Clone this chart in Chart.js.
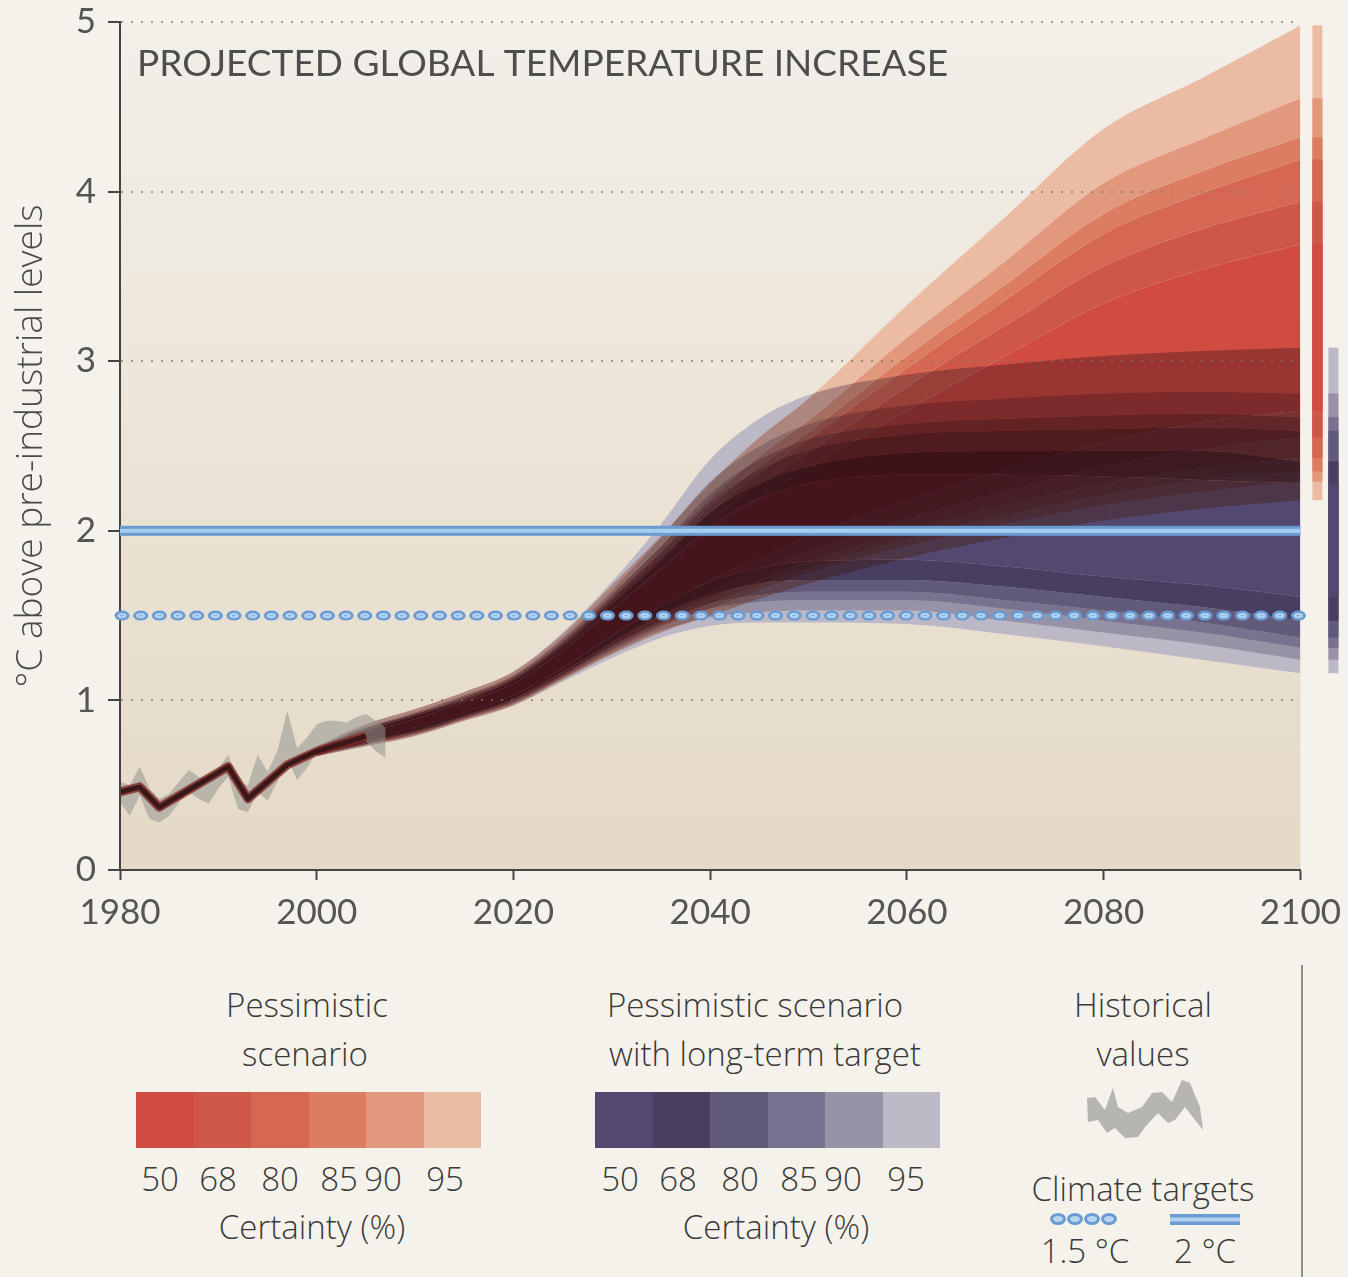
<!DOCTYPE html>
<html>
<head>
<meta charset="utf-8">
<script src="https://cdn.jsdelivr.net/npm/chart.js@4.4.0/dist/chart.umd.min.js"></script>
<style>
  body { margin: 0; background: #f5f2ec; width: 1348px; height: 1277px; overflow: hidden; font-family: 'Open Sans', Lato, sans-serif; position: relative; }
  #chart { position: absolute; left: 0; top: 0; }
  .t { position: absolute; transform: translate(-50%, -50%); white-space: nowrap; font-size: 33px; font-weight: 300; color: #3a3a3a; line-height: 1; }
  .bar { position: absolute; height: 56px; display: flex; }
  .bar div { flex: 1; }
  .sep { position: absolute; left: 1301px; top: 965px; width: 2px; height: 312px; background: #8f8f8f; }
</style>
</head>
<body>
<canvas id="chart" width="1348" height="950"></canvas>

<div class="t" style="left:307px;top:1004px">Pessimistic</div>
<div class="t" style="left:305px;top:1053px">scenario</div>
<div class="bar" id="redBar" style="left:136px;top:1092px;width:345px"></div>
<div class="t" style="left:312px;top:1226px">Certainty (%)</div>

<div class="t" style="left:755px;top:1004px">Pessimistic scenario</div>
<div class="t" style="left:765px;top:1053px">with long-term target</div>
<div class="bar" id="blueBar" style="left:595px;top:1092px;width:345px"></div>
<div class="t" style="left:776px;top:1226px">Certainty (%)</div>

<div class="t" style="left:1143px;top:1004px">Historical</div>
<div class="t" style="left:1143px;top:1053px">values</div>
<svg style="position:absolute;left:1083px;top:1078px" width="124" height="64" viewBox="0 0 124 64">
  <polygon fill="#b6b5b0" points="4,20 12,19 22,32 30,10 35,29 45,35 59,29 69,15 79,14 89,24 99,2 107,5 117,29 120,52 112,42 102,29 92,42 85,45 75,35 62,49 55,59 42,60 32,50 24,55 15,42 5,44"/>
</svg>
<div class="t" style="left:1143px;top:1188px">Climate targets</div>
<svg style="position:absolute;left:1048px;top:1210px" width="200" height="18" viewBox="0 0 200 18">
  <g fill="#b9d6f1" stroke="#6a9cd3" stroke-width="3">
    <ellipse cx="10" cy="9" rx="6.5" ry="4.5"/>
    <ellipse cx="27" cy="9" rx="6.5" ry="4.5"/>
    <ellipse cx="44" cy="9" rx="6.5" ry="4.5"/>
    <ellipse cx="61" cy="9" rx="6.5" ry="4.5"/>
  </g>
  <rect x="122" y="4" width="70" height="11" fill="#6a9cd3"/>
  <rect x="122" y="7.5" width="70" height="4" fill="#b2d2f1"/>
</svg>
<div class="t" style="left:1085px;top:1250px">1.5 °C</div>
<div class="t" style="left:1205px;top:1250px">2 °C</div>
<div class="sep"></div>

<script>
// certainty levels and colours (50 -> 95)
const certainty = ['50', '68', '80', '85', '90', '95'];
const redColors = ['#d04b40', '#cf5748', '#d66753', '#dc7d62', '#e2987c', '#ebbba4'];
const blueColors = ['#534970', '#483e61', '#625a7a', '#79728f', '#9892a7', '#bcb8c6'];

// projection years
const years = [2000, 2005, 2010, 2015, 2020, 2025, 2030, 2035, 2040, 2045, 2050, 2060, 2070, 2080, 2090, 2100];

// pessimistic scenario (red)
const redHi95 = [0.73, 0.86, 0.95, 1.05, 1.17, 1.39, 1.68, 1.97, 2.28, 2.55, 2.78, 3.33, 3.85, 4.37, 4.67, 4.98];
const redHi90 = [0.72, 0.84, 0.93, 1.03, 1.15, 1.36, 1.63, 1.91, 2.19, 2.44, 2.65, 3.14, 3.59, 4.05, 4.31, 4.55];
const redHi85 = [0.72, 0.84, 0.92, 1.02, 1.14, 1.34, 1.61, 1.87, 2.14, 2.38, 2.58, 3.03, 3.45, 3.87, 4.12, 4.32];
const redHi80 = [0.72, 0.83, 0.92, 1.01, 1.13, 1.33, 1.59, 1.85, 2.11, 2.34, 2.54, 2.96, 3.36, 3.75, 3.99, 4.19];
const redHi68 = [0.71, 0.82, 0.91, 1.00, 1.12, 1.31, 1.56, 1.81, 2.06, 2.27, 2.46, 2.85, 3.21, 3.56, 3.78, 3.94];
const redHi50 = [0.71, 0.81, 0.89, 0.99, 1.10, 1.29, 1.53, 1.77, 2.00, 2.19, 2.37, 2.71, 3.03, 3.34, 3.54, 3.69];
const redLo50 = [0.69, 0.76, 0.83, 0.92, 1.03, 1.19, 1.38, 1.55, 1.71, 1.84, 1.97, 2.18, 2.36, 2.52, 2.64, 2.71];
const redLo68 = [0.68, 0.75, 0.82, 0.91, 1.01, 1.17, 1.35, 1.51, 1.64, 1.77, 1.88, 2.07, 2.23, 2.38, 2.48, 2.55];
const redLo80 = [0.68, 0.75, 0.81, 0.90, 1.00, 1.15, 1.32, 1.47, 1.60, 1.71, 1.82, 2.00, 2.15, 2.28, 2.37, 2.43];
const redLo85 = [0.68, 0.74, 0.80, 0.89, 0.99, 1.14, 1.31, 1.45, 1.57, 1.68, 1.78, 1.95, 2.09, 2.21, 2.30, 2.35];
const redLo90 = [0.67, 0.74, 0.80, 0.89, 0.98, 1.13, 1.29, 1.43, 1.54, 1.65, 1.75, 1.91, 2.04, 2.15, 2.23, 2.29];
const redLo95 = [0.67, 0.73, 0.79, 0.88, 0.97, 1.12, 1.27, 1.40, 1.50, 1.60, 1.69, 1.84, 1.96, 2.06, 2.13, 2.18];

// pessimistic scenario with long-term target (blue)
const blueHi95 = [0.73, 0.86, 0.95, 1.05, 1.17, 1.40, 1.70, 2.04, 2.42, 2.66, 2.80, 2.92, 2.98, 3.03, 3.06, 3.08];
const blueHi90 = [0.72, 0.84, 0.93, 1.03, 1.15, 1.37, 1.65, 1.96, 2.29, 2.50, 2.63, 2.74, 2.78, 2.81, 2.82, 2.81];
const blueHi85 = [0.72, 0.84, 0.92, 1.02, 1.14, 1.35, 1.62, 1.91, 2.22, 2.42, 2.54, 2.63, 2.66, 2.68, 2.69, 2.67];
const blueHi80 = [0.72, 0.83, 0.92, 1.01, 1.13, 1.34, 1.60, 1.88, 2.17, 2.36, 2.48, 2.57, 2.59, 2.60, 2.61, 2.59];
const blueHi68 = [0.71, 0.82, 0.91, 1.00, 1.12, 1.32, 1.57, 1.83, 2.11, 2.28, 2.38, 2.46, 2.47, 2.47, 2.47, 2.41];
const blueHi50 = [0.71, 0.81, 0.89, 0.99, 1.10, 1.30, 1.54, 1.78, 2.03, 2.19, 2.28, 2.33, 2.33, 2.32, 2.30, 2.28];
const blueLo50 = [0.69, 0.77, 0.84, 0.93, 1.03, 1.19, 1.38, 1.56, 1.70, 1.78, 1.82, 1.83, 1.79, 1.73, 1.68, 1.61];
const blueLo68 = [0.68, 0.76, 0.82, 0.91, 1.01, 1.17, 1.34, 1.50, 1.62, 1.69, 1.71, 1.71, 1.67, 1.61, 1.55, 1.47];
const blueLo80 = [0.68, 0.75, 0.81, 0.90, 1.00, 1.15, 1.32, 1.46, 1.57, 1.62, 1.64, 1.64, 1.59, 1.53, 1.46, 1.37];
const blueLo85 = [0.68, 0.74, 0.81, 0.90, 0.99, 1.14, 1.30, 1.44, 1.54, 1.58, 1.59, 1.59, 1.54, 1.47, 1.40, 1.31];
const blueLo90 = [0.67, 0.74, 0.80, 0.89, 0.98, 1.13, 1.28, 1.41, 1.49, 1.52, 1.53, 1.53, 1.47, 1.40, 1.33, 1.24];
const blueLo95 = [0.67, 0.73, 0.79, 0.88, 0.97, 1.11, 1.25, 1.37, 1.44, 1.46, 1.46, 1.45, 1.39, 1.32, 1.24, 1.16];

// historical observations (grey band)
const histYears = [1980, 1981, 1982, 1983, 1984, 1985, 1986, 1987, 1988, 1989, 1990, 1991, 1992, 1993, 1994, 1995, 1996, 1997, 1998, 1999, 2000, 2001, 2002, 2003, 2004, 2005, 2006, 2007];
const histHi = [0.52, 0.50, 0.61, 0.48, 0.42, 0.45, 0.52, 0.59, 0.55, 0.52, 0.60, 0.68, 0.52, 0.50, 0.68, 0.58, 0.70, 0.94, 0.72, 0.78, 0.86, 0.88, 0.88, 0.87, 0.90, 0.92, 0.88, 0.84];
const histLo = [0.40, 0.32, 0.44, 0.30, 0.28, 0.32, 0.40, 0.46, 0.42, 0.39, 0.48, 0.55, 0.36, 0.34, 0.46, 0.41, 0.52, 0.66, 0.53, 0.60, 0.70, 0.74, 0.76, 0.76, 0.78, 0.76, 0.70, 0.66];

// modelled past
const modelYears = [1980, 1982, 1984, 1991, 1993, 1997, 2000, 2005];
const modelTemp = [0.46, 0.49, 0.37, 0.61, 0.42, 0.62, 0.70, 0.79];

// climate targets
const target15 = 1.5;
const target2 = 2;

const xTicks = [1980, 2000, 2020, 2040, 2060, 2080, 2100];

function pts(xs, arr) {
    return xs.map((x, i) => ({ x: x, y: arr[i] }));
}

function fan(his, los, colors, order) {
    const bounds = his.concat(los);
    const fills = [colors[5], colors[4], colors[3], colors[2], colors[1], colors[0], colors[1], colors[2], colors[3], colors[4], colors[5]];
    return bounds.map((arr, i) => ({
        data: pts(years, arr),
        order: order,
        borderWidth: 0,
        pointRadius: 0,
        cubicInterpolationMode: 'monotone',
        fill: i < 11 ? '+1' : false,
        backgroundColor: i < 11 ? fills[i] : 'transparent'
    }));
}

const redHis = [redHi95, redHi90, redHi85, redHi80, redHi68, redHi50];
const redLos = [redLo50, redLo68, redLo80, redLo85, redLo90, redLo95];
const blueHis = [blueHi95, blueHi90, blueHi85, blueHi80, blueHi68, blueHi50];
const blueLos = [blueLo50, blueLo68, blueLo80, blueLo85, blueLo90, blueLo95];

function makeDatasets() {
    return []
        .concat(fan(redHis, redLos, redColors, 4))      // 0..11
        .concat(fan(blueHis, blueLos, blueColors, 3))   // 12..23
        .concat([
            { data: pts(histYears, histHi), order: 2, borderWidth: 0, pointRadius: 0, tension: 0, fill: '+1', backgroundColor: 'rgba(150,149,144,0.55)' },
            { data: pts(histYears, histLo), order: 2, borderWidth: 0, pointRadius: 0, tension: 0, fill: false },
            { data: pts(modelYears, modelTemp), order: 1, borderColor: '#3a1719', borderWidth: 5, pointRadius: 0, tension: 0, fill: false, borderJoinStyle: 'round' },
            { data: pts(modelYears, modelTemp), order: 1, borderColor: 'rgba(130,40,34,0.8)', borderWidth: 9, pointRadius: 0, tension: 0, fill: false, borderJoinStyle: 'round' }
        ]);
}

// side bars: 2100 ranges
function sideBar(ctx, y, his, los, colors, x, w) {
    for (let k = 0; k < 6; k++) {
        const top = y.getPixelForValue(his[k][his[k].length - 1]);
        const bot = y.getPixelForValue(los[5 - k][los[5 - k].length - 1]);
        ctx.fillStyle = colors[5 - k];
        ctx.fillRect(x, top, w, bot - top);
    }
}

const decor = {
    id: 'decor',
    beforeDatasetsDraw(chart) {
        chart.ctx.globalCompositeOperation = 'source-over';
    },
    afterDatasetDraw(chart, args) {
        // red fan done -> blend blue fan on top of it; blue done -> normal
        if (args.index === 0) chart.ctx.globalCompositeOperation = 'multiply';
        if (args.index === 12) chart.ctx.globalCompositeOperation = 'source-over';
    },
    afterDatasetsDraw(chart) {
        const ctx = chart.ctx;
        const a = chart.chartArea;
        ctx.save();
        ctx.globalCompositeOperation = 'destination-over';
        const g = ctx.createLinearGradient(0, a.top, 0, a.bottom);
        g.addColorStop(0, '#f2efe9');
        g.addColorStop(0.5, '#ece4d7');
        g.addColorStop(1, '#e4d9c7');
        ctx.fillStyle = g;
        ctx.fillRect(a.left, a.top, a.right - a.left, a.bottom - a.top);
        ctx.restore();
    },
    afterDraw(chart) {
        const ctx = chart.ctx;
        const a = chart.chartArea;
        const y = chart.scales.y;
        ctx.save();

        ctx.font = '37px Lato';
        ctx.fillStyle = '#4d4d4d';
        ctx.textBaseline = 'alphabetic';
        ctx.fillText('PROJECTED GLOBAL TEMPERATURE INCREASE', a.left + 17, a.top + 54);

        sideBar(ctx, y, redHis, redLos, redColors, a.right + 12, 10);
        sideBar(ctx, y, blueHis, blueLos, blueColors, a.right + 28, 10);

        // 2 °C double line
        const y2 = y.getPixelForValue(target2);
        ctx.fillStyle = '#6a9cd3';
        ctx.fillRect(a.left, y2 - 5, a.right - a.left, 10);
        ctx.fillStyle = '#aacdef';
        ctx.fillRect(a.left, y2 - 2, a.right - a.left, 4);

        // 1.5 °C dotted line
        const y15 = y.getPixelForValue(target15);
        const n = Math.round((a.right - a.left - 4) / 18.6);
        const step = (a.right - a.left - 4) / n;
        for (let i = 0; i <= n; i++) {
            const cx = a.left + 2 + i * step;
            ctx.fillStyle = '#6a9cd3';
            ctx.beginPath();
            ctx.ellipse(cx, y15, 7.5, 5, 0, 0, Math.PI * 2);
            ctx.fill();
            ctx.fillStyle = '#b9d6f1';
            ctx.beginPath();
            ctx.ellipse(cx, y15, 4.5, 2.6, 0, 0, Math.PI * 2);
            ctx.fill();
            ctx.fillStyle = '#86b2df';
            ctx.fillRect(cx - 2, y15 - 0.7, 4, 1.4);
        }
        ctx.restore();
    }
};

function makeConfig() {
    return {
        type: 'line',
        data: { datasets: makeDatasets() },
        plugins: [decor],
        options: {
            responsive: false,
            animation: false,
            events: [],
            layout: { padding: { top: 22, right: 48, left: 0, bottom: 0 } },
            plugins: { legend: { display: false }, tooltip: { enabled: false }, filler: { propagate: false } },
            scales: {
                x: {
                    type: 'linear',
                    min: 1980,
                    max: 2100,
                    afterFit: s => { s.height = 80; },
                    afterBuildTicks: s => { s.ticks = xTicks.map(v => ({ value: v })); },
                    ticks: { color: '#555', font: { family: 'Lato', size: 35 }, padding: 12, maxRotation: 0, callback: v => String(v) },
                    grid: { drawOnChartArea: false, drawTicks: true, tickLength: 10, tickColor: '#444', tickWidth: 2 },
                    border: { color: '#444', width: 2 }
                },
                y: {
                    min: 0,
                    max: 5,
                    afterFit: s => { s.width = 120; },
                    ticks: { stepSize: 1, color: '#555', font: { family: 'Lato', size: 35 }, padding: 12 },
                    grid: {
                        z: 1,
                        lineWidth: 2,
                        color: c => c.tick && c.tick.value === 0 ? 'rgba(0,0,0,0)' : 'rgba(125,115,105,0.7)',
                        tickLength: 12,
                        tickColor: '#444',
                        tickWidth: 2,
                        tickBorderDash: []
                    },
                    border: { color: '#444', width: 2, dash: [2, 8], z: 1 },
                    title: { display: true, text: '°C above pre-industrial levels', color: '#4a4a4a', font: { family: 'Open Sans', size: 37, weight: '300' }, padding: { top: 9, bottom: 0 } }
                }
            }
        }
    };
}

// first pass to measure the plot area, then pin it to the reference frame (left 120, top 22, right 1300, bottom 870)
const canvas = document.getElementById('chart');
let chart = new Chart(canvas, makeConfig());
const area = chart.chartArea;
const dy = Math.round(area.top - 22);
const dx = Math.round(1300 - area.right);
chart.destroy();
canvas.width = 1348 + dx;
canvas.height = 950 + dy;
canvas.style.top = (-dy) + 'px';
chart = new Chart(canvas, makeConfig());

// legend colour bars
function buildBar(id, colors) {
    const bar = document.getElementById(id);
    colors.forEach(c => {
        const d = document.createElement('div');
        d.style.background = c;
        bar.appendChild(d);
    });
}
buildBar('redBar', redColors);
buildBar('blueBar', blueColors);

// legend certainty labels
const redLabelX = [160, 218, 280, 339, 383, 445];
const blueLabelX = [620, 678, 740, 799, 843, 906];
certainty.forEach((c, i) => {
    [redLabelX, blueLabelX].forEach(xs => {
        const s = document.createElement('div');
        s.className = 't';
        s.style.left = xs[i] + 'px';
        s.style.top = '1178px';
        s.textContent = c;
        document.body.appendChild(s);
    });
});
</script>
</body>
</html>
